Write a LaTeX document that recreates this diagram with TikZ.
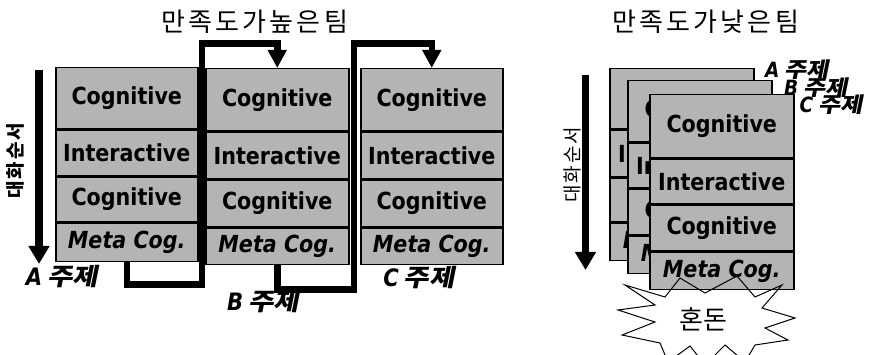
\documentclass[tikz,border=0pt]{standalone}
\usepackage{fontspec}
\usetikzlibrary{arrows.meta}
\newfontfamily\lat{DejaVu Sans}[FakeStretch=0.88]
\newfontfamily\kr{Noto Sans CJK KR}
\newfontfamily\krsl{Noto Sans CJK KR}[FakeSlant=0.2, FakeStretch=1.15]
\definecolor{boxgray}{HTML}{B4B4B4}
\newcommand\ztopic[3]{{\lat\bfseries\itshape\fontsize{#2}{#2}\selectfont #1}\hspace{5pt}{\krsl\bfseries\fontsize{#3}{#3}\selectfont 주제}}
\tikzset{
  rowbox/.style={draw=black, line width=1.5pt, fill=boxgray, anchor=north west,
    inner sep=0pt, font=\lat\bfseries\fontsize{23.5}{23.5}\selectfont},
  titletext/.style={font=\kr\fontsize{26}{26}\selectfont, inner sep=0pt},
  sidetext/.style={rotate=90, font=\kr\fontsize{19}{19}\selectfont, inner sep=0pt},
  topiclabel/.style={inner sep=0pt},
  conn/.style={line width=6.5pt, line join=miter, -{Triangle[length=18pt,width=18pt]}},
  timearrow/.style={line width=7.5pt, -{Triangle[length=18pt,width=20pt]}},
}
\begin{document}
\begin{tikzpicture}[x=1pt,y=-1pt]
\useasboundingbox (0,0) rectangle (870,355);
\fill[white] (0,0) rectangle (870,355);
\clip (0,0) rectangle (870,355);

% titles
\node[titletext] (t1) at (254.5,22) {\hbox to 187pt{만\hfill 족\hfill 도\hfill 가\hfill 높\hfill 은\hfill 팀}};
\node[titletext] (t2) at (705.5,22) {\hbox to 187pt{만\hfill 족\hfill 도\hfill 가\hfill 낮\hfill 은\hfill 팀}};

% left time arrow
\coordinate (la1) at (39,70);
\coordinate (la2) at (39,264);
\draw[timearrow] (la1) -- (la2);
\node[sidetext, font=\kr\bfseries\fontsize{19}{19}\selectfont] (ls) at (15.5,161) {\hbox to 76pt{대\hfill 화\hfill 순\hfill 서}};

% left column A
\node[rowbox, minimum width=142pt, minimum height=61pt] (aC1) at (55,67) {Cognitive};
\node[rowbox, minimum width=142pt, minimum height=45.5pt] (aI) at (55,129.5) {Interactive};
\node[rowbox, minimum width=142pt, minimum height=44.5pt] (aC2) at (55,176.5) {Cognitive};
\node[rowbox, minimum width=142pt, minimum height=38.5pt] (aM) at (55,222.5) {\itshape Meta Cog.};
% left column B
\node[rowbox, minimum width=143pt, minimum height=62pt] (bC1) at (205,68) {Cognitive};
\node[rowbox, minimum width=143pt, minimum height=46.5pt] (bI) at (205,131.5) {Interactive};
\node[rowbox, minimum width=143pt, minimum height=46.5pt] (bC2) at (205,179.5) {Cognitive};
\node[rowbox, minimum width=143pt, minimum height=36.5pt] (bM) at (205,227.5) {\itshape Meta Cog.};
% left column C
\node[rowbox, minimum width=142pt, minimum height=62pt] (cC1) at (360,68) {Cognitive};
\node[rowbox, minimum width=142pt, minimum height=46.5pt] (cI) at (360,131.5) {Interactive};
\node[rowbox, minimum width=142pt, minimum height=46.5pt] (cC2) at (360,179.5) {Cognitive};
\node[rowbox, minimum width=142pt, minimum height=36.5pt] (cM) at (360,227.5) {\itshape Meta Cog.};

% connectors
\draw[conn] (aM.south) -- ++(0,22) -| (202,43.5) -| (bC1.north);
\draw[conn] (bM.south) -- ++(0,24) -| (354,43.5) -| (cC1.north);

% topic labels left
\node[topiclabel] (la) at (62,277) {\ztopic{A}{24}{24}};
\node[topiclabel] (lb) at (263,302) {\ztopic{B}{24}{24}};
\node[topiclabel] (lc) at (419,278) {\ztopic{C}{24}{24}};

% right time arrow
\coordinate (ra1) at (585.5,75);
\coordinate (ra2) at (585.5,270);
\draw[timearrow, line width=7pt] (ra1) -- (ra2);
\node[sidetext] (rs) at (572,165) {\hbox to 76pt{대\hfill 화\hfill 순\hfill 서}};

% starburst fill
\path[fill=white] (625,285) -- (665,297) -- (680,278) -- (705,293) -- (737,276) -- (755,297)
  -- (782,285) -- (762,308) -- (795,318) -- (765,328) -- (788,340) -- (755,345)
  -- (745,362) -- (725,345) -- (705,365) -- (690,346) -- (668,362) -- (660,343)
  -- (622,335) -- (655,322) -- (618,310) -- (655,305) -- cycle;

% right stacks
\node[rowbox, minimum width=144pt, minimum height=60pt] (rAC1) at (609,68) {Cognitive};
\node[rowbox, minimum width=144pt, minimum height=46.5pt] (rAI) at (609,129.5) {Interactive};
\node[rowbox, minimum width=144pt, minimum height=43.5pt] (rAC2) at (609,177.5) {Cognitive};
\node[rowbox, minimum width=144pt, minimum height=37.5pt] (rAM) at (609,222.5) {\itshape Meta Cog.};

\node[rowbox, minimum width=144pt, minimum height=61pt] (rBC1) at (627,80) {Cognitive};
\node[rowbox, minimum width=144pt, minimum height=44.5pt] (rBI) at (627,142.5) {Interactive};
\node[rowbox, minimum width=144pt, minimum height=45.5pt] (rBC2) at (627,188.5) {Cognitive};
\node[rowbox, minimum width=144pt, minimum height=37.5pt] (rBM) at (627,235.5) {\itshape Meta Cog.};

\node[rowbox, minimum width=144pt, minimum height=63pt] (rCC1) at (649,94) {Cognitive};
\node[rowbox, minimum width=144pt, minimum height=44.5pt] (rCI) at (649,158.5) {Interactive};
\node[rowbox, minimum width=144pt, minimum height=45.5pt] (rCC2) at (649,204.5) {Cognitive};
\node[rowbox, minimum width=144pt, minimum height=37.5pt] (rCM) at (649,251.5) {\itshape Meta Cog.};

% right topic labels
\node[topiclabel] (ra) at (797,70) {\ztopic{A}{21}{21}};
\node[topiclabel] (rb) at (816,88) {\ztopic{B}{21}{21}};
\node[topiclabel] (rc) at (831,105) {\ztopic{C}{21}{21}};

% starburst outline
\draw[line width=1pt, line join=miter] (625,285) -- (665,297) -- (680,278) -- (705,293) -- (737,276) -- (755,297)
  -- (782,285) -- (762,308) -- (795,318) -- (765,328) -- (788,340) -- (755,345)
  -- (745,362) -- (725,345) -- (705,365) -- (690,346) -- (668,362) -- (660,343)
  -- (622,335) -- (655,322) -- (618,310) -- (655,305) -- cycle;
\node[font=\kr\fontsize{26}{26}\selectfont, inner sep=0pt] (chaos) at (703,319) {혼돈};
\end{tikzpicture}
\end{document}
